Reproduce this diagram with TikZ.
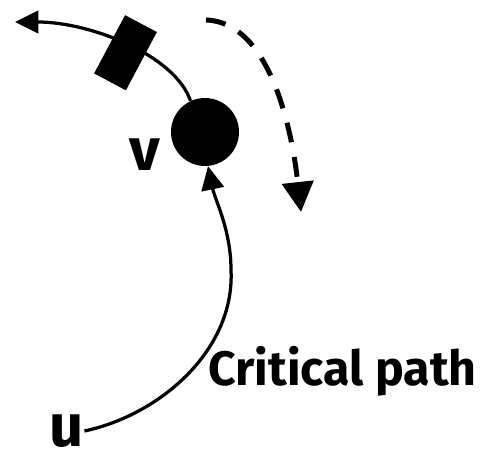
\documentclass[tikz,border=0pt]{standalone}
\usepackage{fontspec}
\setmainfont{Fira Sans}
\usetikzlibrary{arrows.meta}
\begin{document}
\begin{tikzpicture}[x=0.02cm, y=-0.02cm,
    lbl/.style={font=\bfseries\fontsize{34}{36}\selectfont, inner sep=0pt},
    flow/.style={line width=0.065cm, -{Triangle[length=0.47cm, width=0.45cm]}}]
  \useasboundingbox (0,0) rectangle (501,462);
  % the vertex v and the two end labels
  \node[circle, fill, minimum size=1.36cm, inner sep=0pt] (dot) at (205,132) {};
  \node[lbl] (v) at (145,155) {v};
  \node[lbl] (u) at (67,431) {u};
  \coordinate (tip) at (15,22);
  \coordinate (dstart) at (206,20);
  \coordinate (dend) at (301,212);
  % outgoing edge with the block on it
  \draw[flow] (dot.115) .. controls (175,55) and (90,22) .. (tip);
  \node[rectangle, fill, rotate=-28, minimum width=0.72cm, minimum height=1.32cm,
    inner sep=0pt] (box) at (125.5,52.75) {};
  % direction of the sweep
  \draw[line width=0.1cm, dash pattern=on 0.4cm off 0.3cm,
    -{Triangle[length=0.6cm, width=0.62cm]}]
    (dstart) .. controls (270,22) and (292,130) .. (dend);
  % the critical path from u into v
  \draw[flow] (u.east) .. controls (160,415) and (235,350) .. (231,270)
    .. controls (231,230) and (215,200) .. (dot.-85);
  \node[font=\bfseries\fontsize{27.5}{30}\selectfont, anchor=base west, inner sep=0pt]
    (crit) at (208,386) {Critical path};
\end{tikzpicture}
\end{document}
